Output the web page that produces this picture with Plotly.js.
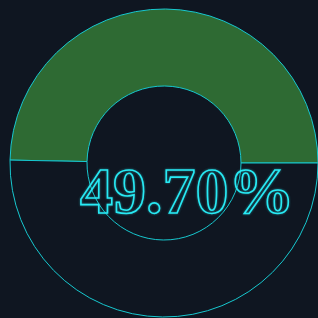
<!DOCTYPE html>
<html>
<head>
<meta charset="utf-8">
<script src="https://cdn.plot.ly/plotly-3.0.1.min.js"></script>
<style>
html,body{margin:0;padding:0;background:#0f1621;}
#chart{width:318px;height:318px;}
.annotation-text{stroke:#28eaf4;stroke-width:1.6px;fill:none !important;filter:drop-shadow(0 0 1px rgba(40,234,244,0.5));}
</style>
</head>
<body>
<div id="chart"></div>
<script>
const labels = ["Filled", "Remaining"];
const values = [49.7, 50.3];
const centerLabel = "49.70%";
const sliceColors = ["#2e6a33", "#0f1621"];

const startAngle = 90 - values[0] / 100 * 360;

Plotly.newPlot("chart", [{
  type: "pie",
  labels: labels,
  values: values,
  hole: 0.5,
  sort: false,
  direction: "clockwise",
  rotation: startAngle,
  textinfo: "none",
  hoverinfo: "none",
  marker: {colors: sliceColors, line: {color: "#17c8cf", width: 1}},
  showlegend: false
}], {
  width: 318,
  height: 318,
  paper_bgcolor: "#0f1621",
  plot_bgcolor: "#0f1621",
  margin: {t: 9, b: 1, l: 10, r: 0},
  annotations: [{
    text: centerLabel,
    xref: "paper", yref: "paper",
    x: 0.576, y: 0.41,
    xanchor: "center", yanchor: "middle",
    showarrow: false,
    font: {family: "Liberation Serif", size: 66, weight: "bold", color: "rgba(0,0,0,0)"}
  }]
}, {displayModeBar: false, staticPlot: true});
</script>
</body>
</html>
